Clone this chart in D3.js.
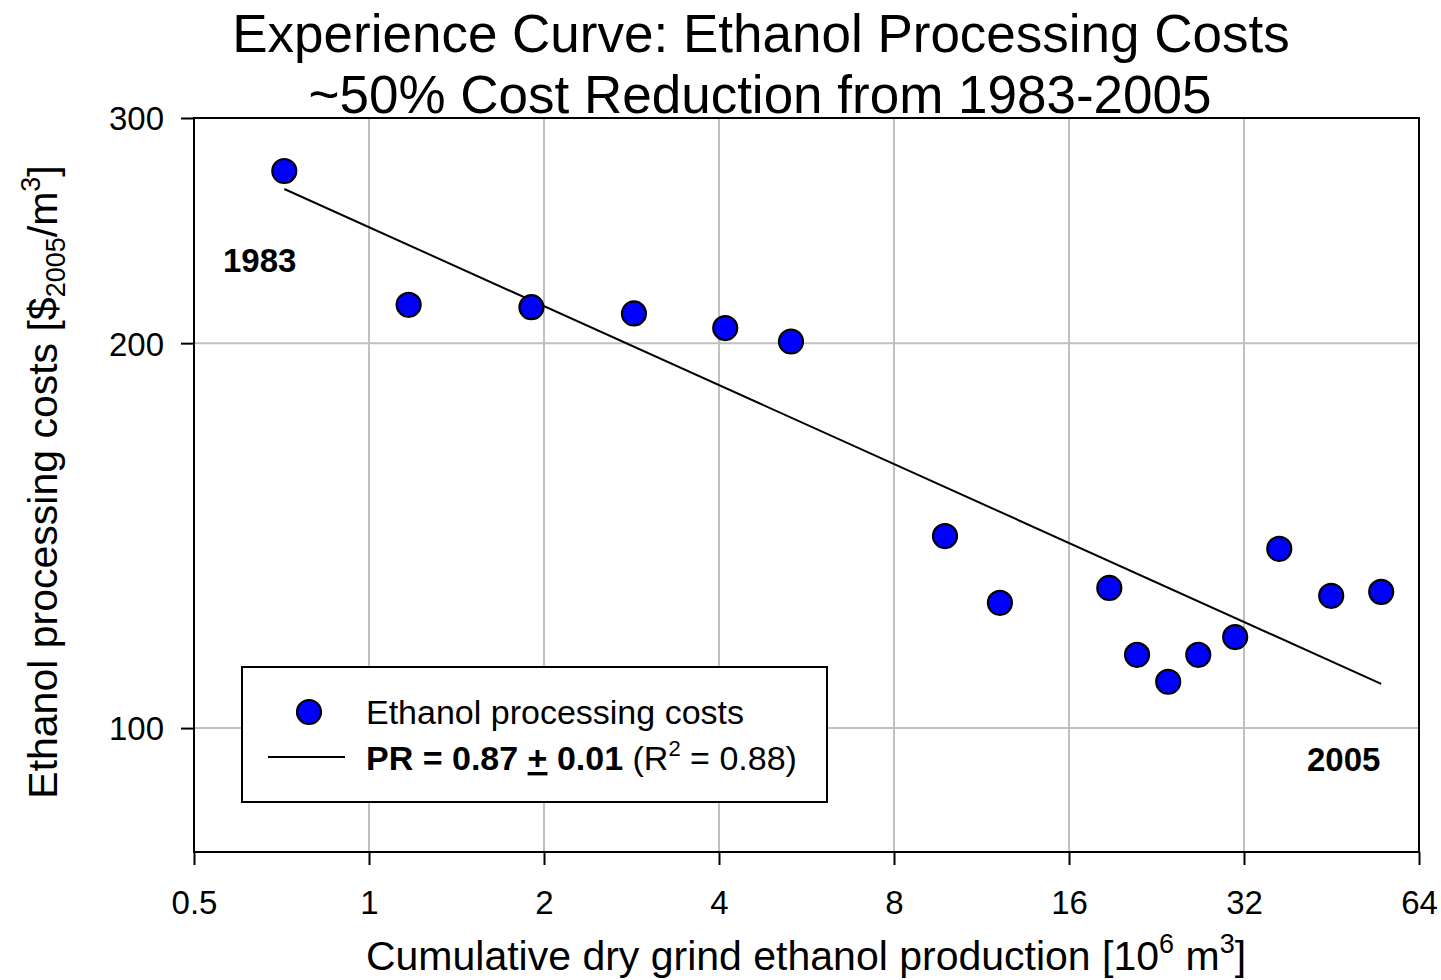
<!DOCTYPE html>
<html>
<head>
<meta charset="utf-8">
<script src="https://cdn.jsdelivr.net/npm/d3@7"></script>
<style>
  html, body { margin: 0; padding: 0; background: #fff; }
  svg { display: block; font-family: "Liberation Sans", Arial, sans-serif; }
</style>
</head>
<body>
<svg id="chart" width="1441" height="980"></svg>
<script>
// ---- data ----
const production = [0.715, 1.17, 1.903, 2.856, 4.10, 5.32, 9.79, 12.17, 18.77, 20.95, 23.7, 26.7, 30.9, 36.8, 45.2, 55.1];
const costs      = [272.7, 214.3, 213.4, 211.0, 205.5, 200.6, 141.3, 125.3, 128.7, 114.1, 108.7, 114.1, 117.8, 138.1, 126.9, 127.8];
const fitX = [0.715, 55.1];
const fitY = [264.0, 108.3];
const xTicks = [0.5, 1, 2, 4, 8, 16, 32, 64];
const xTickLabels = ["0.5", "1", "2", "4", "8", "16", "32", "64"];
const yTicks = [100, 200, 300];
const yTickLabels = ["100", "200", "300"];
const xGrid = [1, 2, 4, 8, 16, 32];
const yGrid = [100, 200];

// ---- layout ----
const svg = d3.select("#chart");
const L = 194, T = 118, R = 1419, B = 852;
const x = d3.scaleLog().base(2).domain([0.5, 64]).range([L, R]);
const y = d3.scaleLog().domain([80, 300]).range([B, T]);

// gridlines
const grid = svg.append("g").attr("stroke", "#c0c0c0").attr("stroke-width", 2);
grid.selectAll("line.vx").data(xGrid).join("line")
  .attr("x1", d => x(d)).attr("x2", d => x(d)).attr("y1", T).attr("y2", B);
grid.selectAll("line.hy").data(yGrid).join("line")
  .attr("x1", L).attr("x2", R).attr("y1", d => y(d)).attr("y2", d => y(d));

// axes
const xAxis = d3.axisBottom(x).tickValues(xTicks).tickSize(13).tickPadding(26)
  .tickFormat((d, i) => xTickLabels[i]);
const yAxis = d3.axisLeft(y).tickValues(yTicks).tickSize(13).tickPadding(17)
  .tickFormat((d, i) => yTickLabels[i]);

const gx = svg.append("g").attr("transform", `translate(0,${B})`).call(xAxis);
const gy = svg.append("g").attr("transform", `translate(${L},0)`).call(yAxis);
[gx, gy].forEach(g => {
  g.select(".domain").remove();
  g.selectAll(".tick line").attr("stroke", "#000").attr("stroke-width", 2);
  g.selectAll(".tick text").attr("fill", "#000")
    .style("font-family", "'Liberation Sans', Arial, sans-serif").style("font-size", "33px");
});
gx.selectAll(".tick text").attr("dy", "0.71em");
gy.selectAll(".tick text").attr("dy", "0.36em");

// frame
svg.append("rect").attr("x", L).attr("y", T).attr("width", R - L).attr("height", B - T)
  .attr("fill", "none").attr("stroke", "#000").attr("stroke-width", 2);

// regression line
const line = d3.line().x(d => x(d[0])).y(d => y(d[1]));
svg.append("path").datum(fitX.map((v, i) => [v, fitY[i]]))
  .attr("d", line).attr("fill", "none").attr("stroke", "#000").attr("stroke-width", 2);

// points
svg.append("g").selectAll("circle").data(production.map((v, i) => [v, costs[i]])).join("circle")
  .attr("cx", d => x(d[0])).attr("cy", d => y(d[1])).attr("r", 12)
  .attr("fill", "#0000ff").attr("stroke", "#000").attr("stroke-width", 2.2);

// annotations
svg.append("text").attr("x", 223).attr("y", 272).attr("font-size", 33).attr("font-weight", "bold").text("1983");
svg.append("text").attr("x", 1307).attr("y", 771).attr("font-size", 33).attr("font-weight", "bold").text("2005");

// legend
svg.append("rect").attr("x", 242).attr("y", 667).attr("width", 585).attr("height", 135)
  .attr("fill", "#fff").attr("stroke", "#000").attr("stroke-width", 2);
svg.append("circle").attr("cx", 309).attr("cy", 712).attr("r", 12)
  .attr("fill", "#0000ff").attr("stroke", "#000").attr("stroke-width", 2.2);
svg.append("text").attr("x", 366).attr("y", 724).attr("font-size", 34).text("Ethanol processing costs");
svg.append("line").attr("x1", 268).attr("x2", 345).attr("y1", 757).attr("y2", 757)
  .attr("stroke", "#000").attr("stroke-width", 2);
const lt = svg.append("text").attr("x", 366).attr("y", 770).attr("font-size", 34);
lt.append("tspan").attr("font-weight", "bold").text("PR = 0.87 ");
lt.append("tspan").attr("font-weight", "bold").style("text-decoration", "underline").text("+");
lt.append("tspan").attr("font-weight", "bold").text(" 0.01");
lt.append("tspan").text(" (R");
lt.append("tspan").attr("font-size", 22).attr("dy", -14).text("2");
lt.append("tspan").attr("dy", 14).text(" = 0.88)");

// title
svg.append("text").attr("x", 761).attr("y", 52).attr("text-anchor", "middle").attr("font-size", 53)
  .text("Experience Curve: Ethanol Processing Costs");
svg.append("text").attr("x", 760).attr("y", 113).attr("text-anchor", "middle").attr("font-size", 53)
  .text("~50% Cost Reduction from 1983-2005");

// x label
const xl = svg.append("text").attr("x", 806).attr("y", 970).attr("text-anchor", "middle").attr("font-size", 41);
xl.append("tspan").text("Cumulative dry grind ethanol production [10");
xl.append("tspan").attr("font-size", 27).attr("dy", -17).text("6");
xl.append("tspan").attr("dy", 17).text(" m");
xl.append("tspan").attr("font-size", 27).attr("dy", -17).text("3");
xl.append("tspan").attr("dy", 17).text("]");

// y label
const yl = svg.append("text").attr("transform", "translate(57,482) rotate(-90)")
  .attr("text-anchor", "middle").attr("font-size", 41);
yl.append("tspan").text("Ethanol processing costs [$");
yl.append("tspan").attr("font-size", 27).attr("dy", 8).text("2005");
yl.append("tspan").attr("dy", -8).text("/m");
yl.append("tspan").attr("font-size", 27).attr("dy", -17).text("3");
yl.append("tspan").attr("dy", 17).text("]");
</script>
</body>
</html>
